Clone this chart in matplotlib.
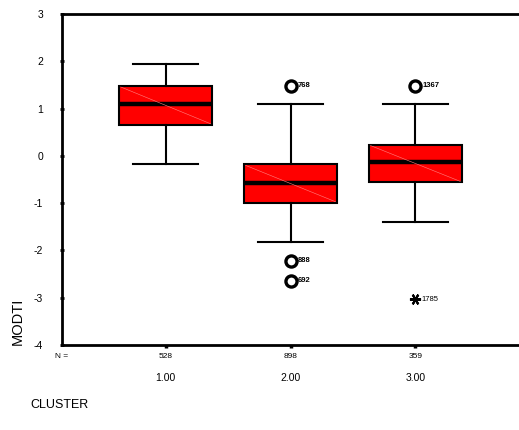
import matplotlib.pyplot as plt
import matplotlib.transforms as mtransforms

plt.rcParams['font.family'] = ['Liberation Sans', 'DejaVu Sans']
plt.rcParams['axes.unicode_minus'] = False

clusters = ['1.00', '2.00', '3.00']
n_counts = [528, 898, 359]
whislo = [-0.18, -1.83, -1.40]
q1 = [0.66, -0.99, -0.56]
med = [1.09, -0.58, -0.13]
q3 = [1.48, -0.18, 0.24]
whishi = [1.94, 1.10, 1.10]

# outliers (circles) and extremes (asterisks), with their case labels
# (several case numbers print on top of each other in the original)
outlier_vals = [[], [1.49, -2.22, -2.64], [1.49]]
outlier_labels = [[], ['768', '888', '692'], ['1367']]
extreme_vals = [[], [], [-3.03]]
extreme_labels = [[], [], ['1785']]

positions = [1, 2, 3]

fig = plt.figure(figsize=(5.19, 4.30), dpi=100)
ax = fig.add_axes([0.1195, 0.198, 0.8805, 0.769])

stats = []
for i in range(3):
    stats.append({'whislo': whislo[i], 'q1': q1[i], 'med': med[i], 'q3': q3[i],
                  'whishi': whishi[i], 'fliers': []})

ax.bxp(stats, positions=positions, widths=0.75, capwidths=0.52, patch_artist=True,
       showfliers=False,
       boxprops=dict(facecolor='#ff0000', edgecolor='black', linewidth=1.5),
       medianprops=dict(color='black', linewidth=3.2),
       whiskerprops=dict(color='black', linewidth=1.5),
       capprops=dict(color='black', linewidth=1.5))

# thin diagonal line inside each box (SPSS rendering artefact)
for i, p in enumerate(positions):
    ax.plot([p - 0.36, p + 0.36], [q3[i] - 0.02, q1[i] + 0.02], color='#ff8080',
            linewidth=0.4, zorder=3)

for i, p in enumerate(positions):
    for v, lab in zip(outlier_vals[i], outlier_labels[i]):
        ax.plot(p, v, marker='o', markersize=8, markerfacecolor='white',
                markeredgecolor='black', markeredgewidth=2.4, zorder=4)
        ax.text(p + 0.058, v, lab, fontsize=5.5, fontweight='bold', va='center',
                ha='left', color='black')
    for v, lab in zip(extreme_vals[i], extreme_labels[i]):
        ax.plot(p, v, marker=(6, 2, 90), markersize=8, color='black',
                markeredgewidth=1.5, zorder=4)
        ax.text(p + 0.05, v, lab, fontsize=5.5, va='center', ha='left')

ax.set_xlim(0.17, 3.83)
ax.set_ylim(-4, 3)
ax.set_yticks(range(-4, 4))
ax.set_xticks(positions)
ax.set_xticklabels([])
ax.tick_params(axis='y', direction='inout', length=3, width=2, labelsize=7.5, pad=12)
ax.tick_params(axis='x', direction='out', length=2, width=2.5)

for s in ['left', 'bottom', 'top']:
    ax.spines[s].set_linewidth(2)
ax.spines['right'].set_visible(False)

trans = mtransforms.blended_transform_factory(ax.transData, fig.transFigure)
fig.text(55 / 519, 1 - 357 / 430, 'N =', fontsize=6, va='center', ha='left')
for p, n, c in zip(positions, n_counts, clusters):
    ax.text(p, 1 - 357 / 430, str(n), transform=trans, fontsize=6, ha='center', va='center')
    ax.text(p, 1 - 378 / 430, c, transform=trans, fontsize=7.5, ha='center', va='center')

fig.text(30 / 519, 1 - 405 / 430, 'CLUSTER', fontsize=9, ha='left', va='center')
fig.text(18 / 519, 1 - 345 / 430, 'MODTI', fontsize=10.5, rotation=90, ha='center', va='bottom')

fig.savefig('out.png', dpi=100)
